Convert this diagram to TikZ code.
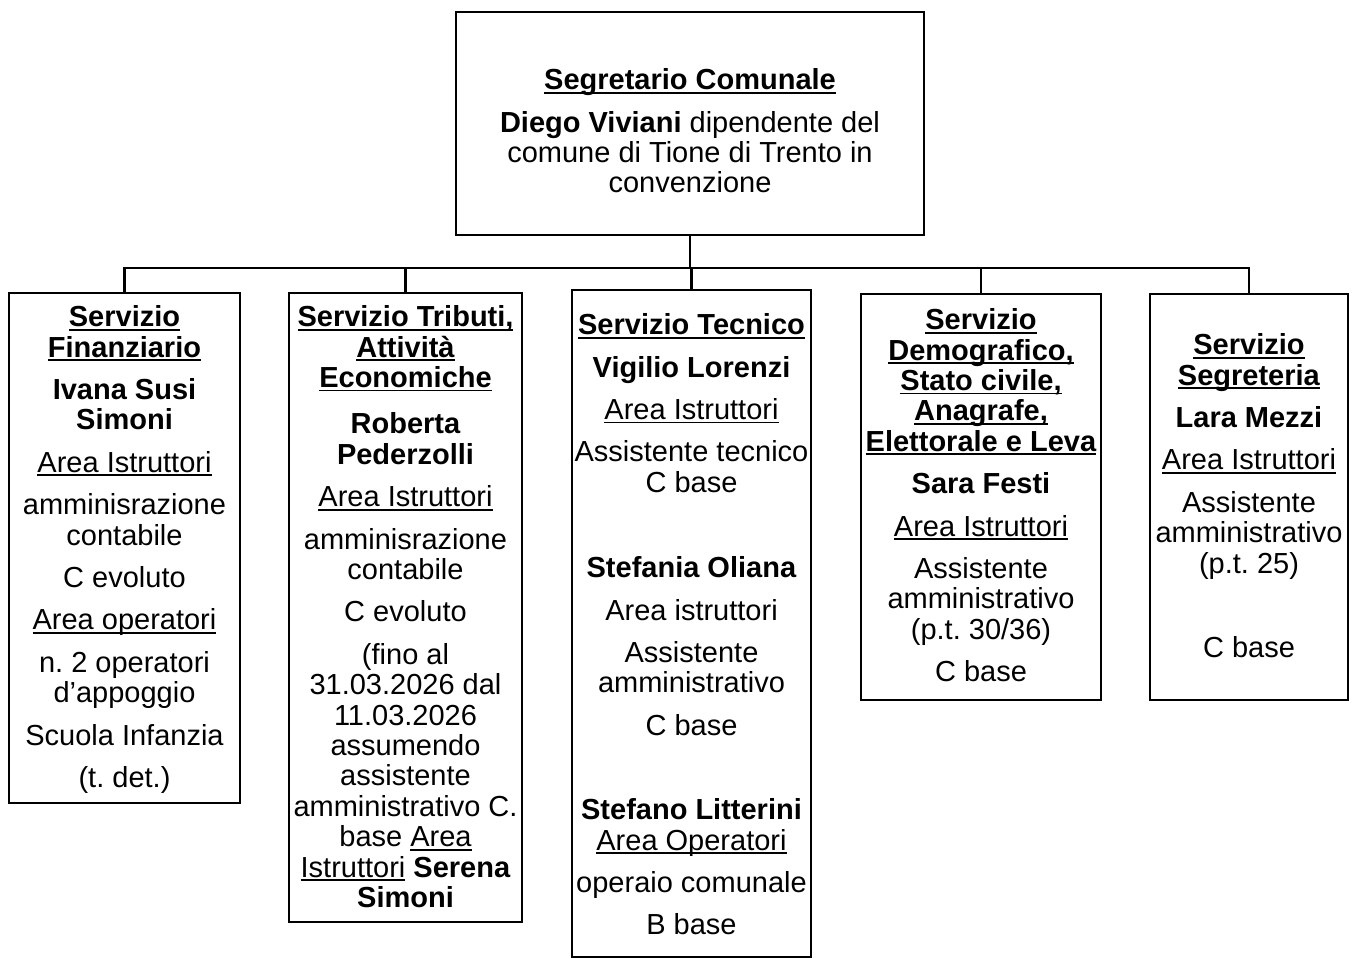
\documentclass[tikz,border=0pt]{standalone}
\usepackage{fontspec}
\setmainfont{Liberation Sans}
\newsavebox{\sottbox}
\newcommand{\sott}[1]{\savebox{\sottbox}{#1}\rlap{\rule[-4pt]{\wd\sottbox}{1.8pt}}\usebox{\sottbox}}
\newcommand{\tit}[1]{\sott{\textbf{#1}}}
\begin{document}
\begin{tikzpicture}[x=1pt,y=-1pt,
  ufficio/.style={draw,line width=2.5pt,inner sep=0pt,outer sep=0pt,anchor=north west},
  testo/.style={anchor=north,inner sep=0pt,align=center,font=\fontsize{29}{30.4}\selectfont\frenchspacing,
    execute at begin node={\rule{0pt}{22pt}}},
  filo/.style={line width=2.5pt}]
\useasboundingbox (0,0) rectangle (1353,959);
\node[ufficio,minimum width=468pt,minimum height=223pt](sgc) at (456,12){};
\node[ufficio,minimum width=231pt,minimum height=510pt](fin) at (9,293){};
\node[ufficio,minimum width=233pt,minimum height=629pt](tri) at (289,293){};
\node[ufficio,minimum width=239pt,minimum height=667pt](tec) at (572,290){};
\node[ufficio,minimum width=240pt,minimum height=406pt](dem) at (861,294){};
\node[ufficio,minimum width=198pt,minimum height=406pt](sgr) at (1150,294){};
\node[testo](sgc-t) at ([yshift=-56.4pt]sgc.north){\tit{Segretario Comunale}\\[12pt]
  \textbf{Diego Viviani} dipendente del\\ comune di Tione di Trento in\\ convenzione};
\node[testo](fin-t) at ([yshift=-12.4pt]fin.north){\tit{Servizio}\\ \tit{Finanziario}\\[12pt]
  \textbf{Ivana Susi}\\ \textbf{Simoni}\\[12pt] \sott{Area Istruttori}\\[12pt]
  amminisrazione\\ contabile\\[12pt] C evoluto\\[12pt] \sott{Area operatori}\\[12pt]
  n. 2 operatori\\ d'appoggio\\[12pt] Scuola Infanzia\\[12pt] (t. det.)};
\node[testo](tri-t) at ([yshift=-12.4pt]tri.north){\tit{Servizio Tributi,}\\ \tit{Attività}\\ \tit{Economiche}\\[16pt]
  \textbf{Roberta}\\ \textbf{Pederzolli}\\[12pt] \sott{Area Istruttori}\\[12pt]
  amminisrazione\\ contabile\\[12pt] C evoluto\\[12pt] (fino al\\ 31.03.2026 dal\\ 11.03.2026\\
  assumendo\\ assistente\\ amministrativo C.\\ base \sott{Area}\\ \sott{Istruttori} \textbf{Serena}\\ \textbf{Simoni}};
\node[testo](tec-t) at ([yshift=-23.4pt]tec.north){\tit{Servizio Tecnico}\\[12pt]
  \textbf{Vigilio Lorenzi}\\[12pt] \sott{Area Istruttori}\\[12pt] Assistente tecnico\\ C base\\[55pt]
  \textbf{Stefania Oliana}\\[12pt] Area istruttori\\[12pt] Assistente\\ amministrativo\\[12pt] C base\\[54pt]
  \textbf{Stefano Litterini}\\ \sott{Area Operatori}\\[12pt] operaio comunale\\[12pt] B base};
\node[testo](dem-t) at ([yshift=-14.4pt]dem.north){\tit{Servizio}\\ \tit{Demografico,}\\ \tit{Stato civile,}\\
  \tit{Anagrafe,}\\ \tit{Elettorale e Leva}\\[12pt] \textbf{Sara Festi}\\[12pt] \sott{Area Istruttori}\\[12pt]
  Assistente\\ amministrativo\\ (p.t. 30/36)\\[12pt] C base};
\node[testo](sgr-t) at ([yshift=-39.4pt]sgr.north){\tit{Servizio}\\ \tit{Segreteria}\\[12pt]
  \textbf{Lara Mezzi}\\[12pt] \sott{Area Istruttori}\\[12pt] Assistente\\ amministrativo\\ (p.t. 25)\\[54pt] C base};
\coordinate (bus) at (690,268);
\draw[filo](sgc.south)--(bus);
\foreach \n in {fin,tri,tec,dem,sgr}{\draw[filo](\n.north)|-(bus);}
\end{tikzpicture}
\end{document}
